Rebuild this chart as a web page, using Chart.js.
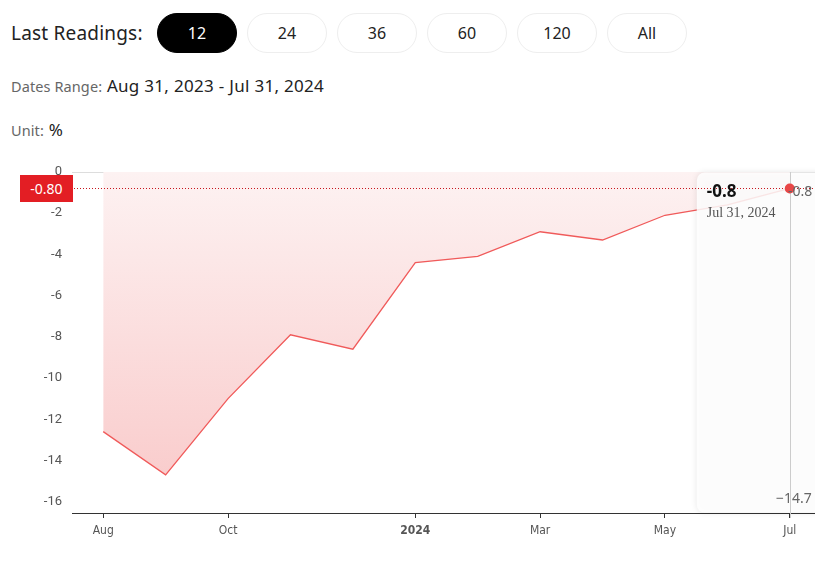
<!DOCTYPE html>
<html>
<head>
<meta charset="utf-8">
<script src="https://cdn.jsdelivr.net/npm/chart.js@4.4.1/dist/chart.umd.min.js"></script>
<style>
  body { margin: 0; background: #fff; font-family: "Noto Sans", Roboto, sans-serif; overflow: hidden; }
  .wrap { position: relative; width: 815px; height: 575px; overflow: hidden; }
  .lbl { position: absolute; left: 11px; top: 19px; font-size: 19px; line-height: 28px; color: #222; letter-spacing: 0.2px; }
  .btn { position: absolute; top: 13px; width: 78px; height: 38px; border: 1px solid #eee; border-radius: 20px;
         display: flex; align-items: center; justify-content: center; font-size: 16px; color: #222; }
  .btn.on { background: #000; color: #fff; border-color: #000; }
  .info { position: absolute; left: 11px; font-size: 17px; color: #222; letter-spacing: 0.3px; }
  .info span { font-size: 14.5px; color: #666; letter-spacing: 0.1px; }
  #box { position: absolute; left: 0; top: 150px; width: 830px; height: 410px; }
  .ov { position: absolute; white-space: nowrap; }
  #tag { background: #e31e24; color: #fff; font: 14px "Noto Sans", sans-serif; width: 53px; height: 27px;
         display: flex; align-items: center; justify-content: center; }
</style>
</head>
<body>
<div class="wrap">
  <div class="lbl">Last Readings:</div>
  <div class="btn on" style="left:157px">12</div>
  <div class="btn" style="left:247px">24</div>
  <div class="btn" style="left:337px">36</div>
  <div class="btn" style="left:427px">60</div>
  <div class="btn" style="left:517px">120</div>
  <div class="btn" style="left:607px">All</div>
  <div class="info" style="top:74px"><span>Dates Range:</span> Aug 31, 2023 - Jul 31, 2024</div>
  <div class="info" style="top:118px"><span>Unit:</span> %</div>
  <canvas id="box" width="830" height="410"></canvas>
  <div id="tag" class="ov">-0.80</div>
  <div id="tipVal" class="ov" style="font:bold 17px 'Noto Sans',sans-serif;color:#111">-0.8</div>
  <div id="tipDate" class="ov" style="font:14px 'Liberation Serif',serif;color:#555">Jul 31, 2024</div>
  <div id="maxLbl" class="ov" style="font:14px 'Noto Sans',sans-serif;color:#666"></div>
  <div id="minLbl" class="ov" style="font:14px 'Noto Sans',sans-serif;color:#666"></div>
</div>
<script>
// monthly readings, Aug 2023 - Jul 2024
const dates = ["Aug 31, 2023", "Sep 30, 2023", "Oct 31, 2023", "Nov 30, 2023", "Dec 31, 2023", "Jan 31, 2024",
  "Feb 29, 2024", "Mar 31, 2024", "Apr 30, 2024", "May 31, 2024", "Jun 30, 2024", "Jul 31, 2024"];
const values = [-12.6, -14.7, -11.0, -7.9, -8.6, -4.4, -4.1, -2.9, -3.3, -2.1, -1.6, -0.8];
// x tick labels shown (others hidden)
const tickLabels = { 0: "Aug", 2: "Oct", 5: "2024", 7: "Mar", 9: "May", 11: "Jul" };
const yTicks = [0, -2, -4, -6, -8, -10, -12, -14, -16];

const last = values.length - 1;
const lastVal = values[last];

const overlay = {
  id: "overlay",
  afterDatasetsDraw(chart) {
    const { ctx, chartArea: a, scales } = chart;
    const pt = chart.getDatasetMeta(0).data[last];
    // tooltip panel
    ctx.save();
    ctx.shadowColor = "rgba(0,0,0,0.12)";
    ctx.shadowBlur = 6;
    ctx.fillStyle = "rgba(255,255,255,0.85)";
    ctx.beginPath();
    ctx.roundRect(pt.x - 93, a.top + 0.5, 140, a.bottom - a.top - 1, 8);
    ctx.fill();
    ctx.restore();
    // crosshair
    ctx.save();
    ctx.strokeStyle = "#ccc";
    ctx.lineWidth = 1;
    ctx.beginPath();
    ctx.moveTo(Math.round(pt.x) + 0.5, a.top);
    ctx.lineTo(Math.round(pt.x) + 0.5, a.bottom + 5);
    ctx.stroke();
    // dotted current value line
    const y = Math.round(scales.y.getPixelForValue(lastVal)) + 0.5;
    ctx.strokeStyle = "#c8161d";
    ctx.setLineDash([1, 2]);
    ctx.beginPath();
    ctx.moveTo(a.left - 4, y);
    ctx.lineTo(chart.width, y);
    ctx.stroke();
    ctx.restore();
    pt.draw(ctx, a);
  }
};

const canvas = document.getElementById("box");
const ctx = canvas.getContext("2d");

const chart = new Chart(ctx, {
  type: "line",
  data: {
    labels: dates,
    datasets: [{
      data: values,
      borderColor: "#f05a5a",
      borderWidth: 1.3,
      tension: 0,
      fill: "origin",
      backgroundColor: (c) => {
        const a = c.chart.chartArea;
        if (!a) return "rgba(250,210,210,0.5)";
        const g = c.chart.ctx.createLinearGradient(0, a.top, 0, a.bottom);
        g.addColorStop(0, "rgba(253,242,242,1)");
        g.addColorStop(1, "rgba(249,200,200,1)");
        return g;
      },
      pointRadius: (c) => (c.dataIndex === last ? 5 : 0),
      pointBackgroundColor: "#e84747",
      pointBorderWidth: 0,
    }],
  },
  options: {
    responsive: false,
    animation: false,
    layout: { padding: { top: 22, right: 9, left: 0, bottom: 0 } },
    plugins: { legend: { display: false }, tooltip: { enabled: false } },
    scales: {
      x: {
        offset: true,
        border: { color: "#333", width: 1 },
        grid: {
          drawOnChartArea: false,
          tickLength: 5,
          color: (c) => (tickLabels[c.index] !== undefined ? "#333" : "rgba(0,0,0,0)"),
        },
        afterFit: (s) => { s.height = 47; },
        ticks: {
          autoSkip: false,
          maxRotation: 0,
          padding: 6,
          color: "#555",
          font: (c) => ({ family: "'DejaVu Sans Condensed', 'DejaVu Sans', sans-serif", size: 12, weight: c.index === 5 ? "bold" : "normal" }),
          callback: (v, i) => tickLabels[i] ?? "",
        },
      },
      y: {
        min: -16.55,
        max: 0,
        border: { display: false },
        afterFit: (s) => { s.width = 72; },
        afterBuildTicks: (s) => { s.ticks = yTicks.map((v) => ({ value: v })); },
        grid: {
          drawTicks: false,
          color: (c) => (c.tick && c.tick.value === 0 ? "#ddd" : "rgba(0,0,0,0)"),
        },
        ticks: {
          padding: 10,
          color: "#555",
          font: { family: "Roboto, 'Noto Sans', sans-serif", size: 13 },
        },
      },
    },
  },
  plugins: [overlay],
});

// place html labels from the chart's own scales
const top0 = canvas.offsetTop;
const pt = chart.getDatasetMeta(0).data[last];
const yCur = top0 + chart.scales.y.getPixelForValue(lastVal);
const yMin = top0 + chart.scales.y.getPixelForValue(Math.min(...values));
function place(id, left, cy) {
  const el = document.getElementById(id);
  el.style.left = left + "px";
  el.style.top = (cy - el.offsetHeight / 2) + "px";
}
place("tag", 20, yCur);
place("tipVal", pt.x - 83, yCur + 2);
place("tipDate", pt.x - 83, yCur + 25);
const mx = document.getElementById("maxLbl");
mx.textContent = String(Math.max(...values));
place("maxLbl", 812 - mx.offsetWidth, yCur + 2);
const mn = document.getElementById("minLbl");
mn.textContent = String(Math.min(...values)).replace("-", "\u2212");
place("minLbl", 812 - mn.offsetWidth, yMin + 23);
</script>
</body>
</html>
